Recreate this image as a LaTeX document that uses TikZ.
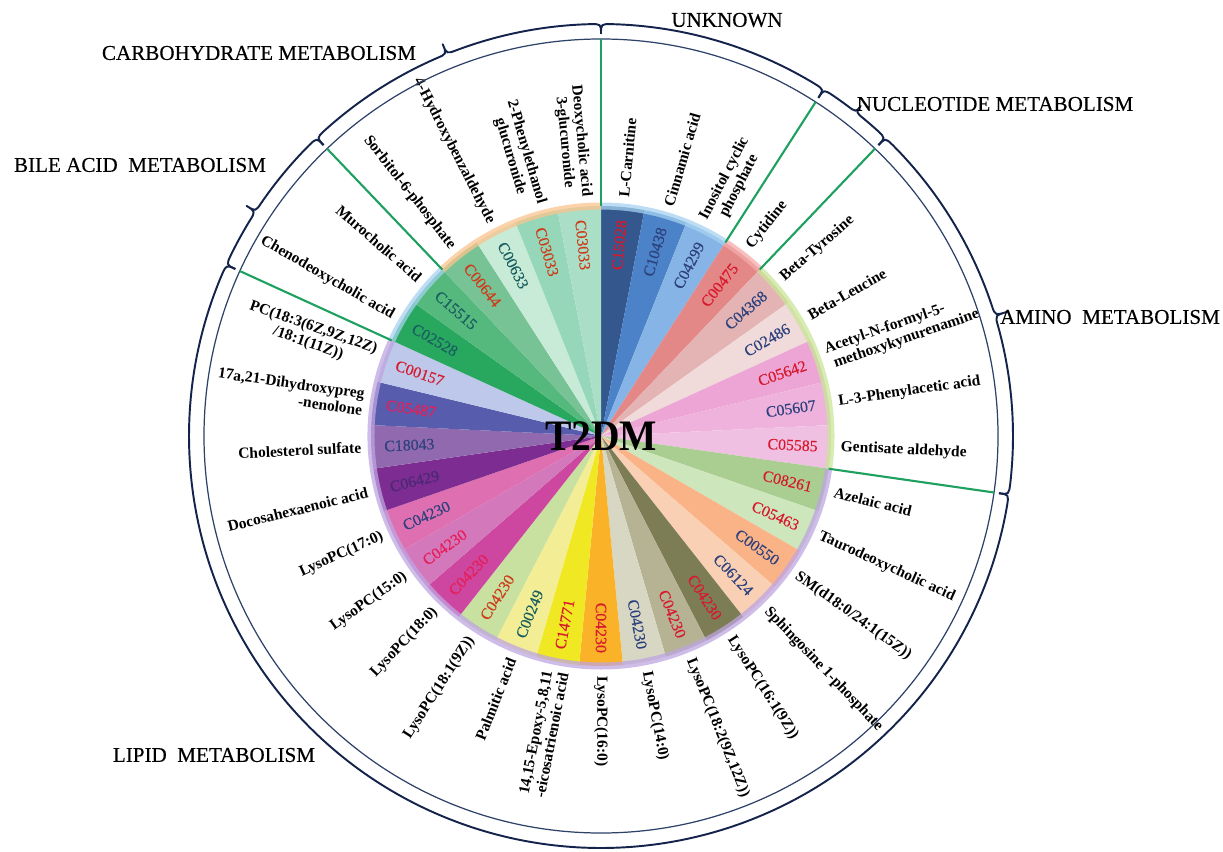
\documentclass[tikz,border=0pt]{standalone}
\usepackage{fontspec}
\setmainfont{Liberation Serif}
\newfontfamily\heavyserif{Liberation Serif}[FakeBold=0.35]
\definecolor{DivGreen}{RGB}{30,160,95}
\definecolor{RingNavy}{RGB}{45,65,105}
\definecolor{BraceNavy}{RGB}{20,35,75}
\definecolor{TxRed}{RGB}{215,25,45}
\definecolor{TxBlue}{RGB}{45,65,125}
\definecolor{TxTeal}{RGB}{25,95,95}
\definecolor{TxOrange}{RGB}{205,60,25}
\definecolor{TxPurple}{RGB}{75,40,115}
\definecolor{TxPink}{RGB}{230,30,90}
\definecolor{RimOrange}{RGB}{250,195,140}
\definecolor{RimBlue}{RGB}{165,210,240}
\definecolor{RimPink}{RGB}{245,170,170}
\definecolor{RimGreen}{RGB}{200,230,150}
\definecolor{RimLilac}{RGB}{190,165,225}
\definecolor{Seg1}{RGB}{52,88,142}
\definecolor{Seg2}{RGB}{75,130,200}
\definecolor{Seg3}{RGB}{135,180,230}
\definecolor{Seg4}{RGB}{228,135,135}
\definecolor{Seg5}{RGB}{228,180,180}
\definecolor{Seg6}{RGB}{240,218,218}
\definecolor{Seg7}{RGB}{236,165,212}
\definecolor{Seg8}{RGB}{238,178,220}
\definecolor{Seg9}{RGB}{240,192,226}
\definecolor{Seg10}{RGB}{170,205,145}
\definecolor{Seg11}{RGB}{205,230,188}
\definecolor{Seg12}{RGB}{250,178,135}
\definecolor{Seg13}{RGB}{250,208,180}
\definecolor{Seg14}{RGB}{125,125,85}
\definecolor{Seg15}{RGB}{182,178,148}
\definecolor{Seg16}{RGB}{215,215,195}
\definecolor{Seg17}{RGB}{250,178,40}
\definecolor{Seg18}{RGB}{240,232,35}
\definecolor{Seg19}{RGB}{243,238,150}
\definecolor{Seg20}{RGB}{200,225,160}
\definecolor{Seg21}{RGB}{205,70,160}
\definecolor{Seg22}{RGB}{212,120,188}
\definecolor{Seg23}{RGB}{222,112,178}
\definecolor{Seg24}{RGB}{125,45,145}
\definecolor{Seg25}{RGB}{145,105,175}
\definecolor{Seg26}{RGB}{88,92,172}
\definecolor{Seg27}{RGB}{190,200,235}
\definecolor{Seg28}{RGB}{40,168,95}
\definecolor{Seg29}{RGB}{85,185,125}
\definecolor{Seg30}{RGB}{120,195,150}
\definecolor{Seg31}{RGB}{200,235,215}
\definecolor{Seg32}{RGB}{150,215,185}
\definecolor{Seg33}{RGB}{170,222,198}
\tikzset{
  code/.style={font=\heavyserif\fontsize{9}{10}\selectfont,inner sep=1pt},
  compound/.style={font=\bfseries\fontsize{8.8}{9.4}\selectfont,inner sep=1pt},
  group/.style={font=\heavyserif\fontsize{12}{14}\selectfont,inner sep=0pt},
  divider/.style={DivGreen,line width=1.2pt},
  ring/.style={RingNavy,line width=0.7pt},
  bracket/.style={BraceNavy,line width=1.1pt,line join=round},
  rim/.style={line width=4pt,opacity=0.75}
}
% lo angle, cusp angle, hi angle, cusp radius
\newcommand{\grpbrace}[4]{%
  \draw[bracket] (#1:8.04) .. controls (#1:8.24) .. ({#1+1.5}:8.24)
    arc[start angle={#1+1.5},end angle={#2-1.5},radius=8.24]
    .. controls (#2:8.24) .. (#2:#4)
    .. controls (#2:8.24) .. ({#2+1.5}:8.24)
    arc[start angle={#2+1.5},end angle={#3-1.5},radius=8.24]
    .. controls (#3:8.24) .. (#3:8.04);}

\begin{document}
\begin{tikzpicture}
\useasboundingbox (0,0) rectangle (24.46,17.02);
\begin{scope}[shift={(12.02,8.30)}]

\foreach \i in {1,...,33}{
  \pgfmathsetmacro{\s}{90-(\i-1)*360/33}
  \pgfmathsetmacro{\e}{90-\i*360/33}
  \fill[Seg\i] (0,0) -- (\s:4.6) arc[start angle=\s,end angle=\e,radius=4.6] -- cycle;
}

\foreach \lo/\hi/\rc in {90/133.64/RimOrange,133.64/155.45/RimBlue,155.45/351.82/RimLilac,
  -8.18/46.36/RimGreen,46.36/57.27/RimPink,57.27/90/RimBlue}
  \draw[rim,\rc] (\lo:4.6) arc[start angle=\lo,end angle=\hi,radius=4.6];

\node[font=\bfseries\fontsize{22.5}{24}\selectfont,inner sep=0pt,yscale=1.1] (t2dm) at (0,0) {T2DM};

\foreach \tc/\code/\al/\cname [count=\i] in {
  TxRed/C15028/center/L-Carnitine,
  TxBlue/C10438/center/Cinnamic acid,
  TxBlue/C04299/center/Inositol cyclic\\phosphate,
  TxRed/C00475/center/Cytidine,
  TxBlue/C04368/center/Beta-Tyrosine,
  TxBlue/C02486/center/Beta-Leucine,
  TxRed/C05642/left/Acetyl-N-formyl-5-\\\ methoxykynurenamine,
  TxBlue/C05607/center/L-3-Phenylacetic acid,
  TxRed/C05585/center/Gentisate aldehyde,
  TxRed/C08261/center/Azelaic acid,
  TxRed/C05463/center/Taurodeoxycholic acid,
  TxBlue/C00550/center/{SM(d18:0/24:1(15Z))},
  TxBlue/C06124/center/Sphingosine 1-phosphate,
  TxRed/C04230/center/LysoPC(16:1(9Z)),
  TxRed/C04230/center/{LysoPC(18:2(9Z,12Z))},
  TxBlue/C04230/center/LysoPC(14:0),
  TxRed/C04230/center/LysoPC(16:0),
  TxRed/C14771/center/{14,15-Epoxy-5,8,11\\-eicosatrienoic acid},
  TxTeal/C00249/center/Palmitic acid,
  TxOrange/C04230/center/LysoPC(18:1(9Z)),
  TxPink/C04230/center/LysoPC(18:0),
  TxPink/C04230/center/LysoPC(15:0),
  TxBlue/C04230/center/LysoPC(17:0),
  TxPurple/C06429/center/Docosahexaenoic acid,
  TxBlue/C18043/center/Cholesterol sulfate,
  TxPink/C05487/right/{17a,21-Dihydroxypreg\\-nenolone},
  TxRed/C00157/center/{PC(18:3(6Z,9Z,12Z)\\/18:1(11Z))},
  TxTeal/C02528/center/Chenodeoxycholic acid,
  TxTeal/C15515/center/Murocholic acid,
  TxOrange/C00644/center/Sorbitol-6-phosphate,
  TxTeal/C00633/center/4-Hydroxybenzaldehyde,
  TxOrange/C03033/center/2-Phenylethanol\\glucuronide,
  TxOrange/C03033/center/Deoxycholic acid\\3-glucuronide}{
  \pgfmathsetmacro{\m}{90-(\i-0.5)*360/33}
  \ifdim\m pt>-90.5pt
    \node[code,text=\tc,rotate=\m,anchor=east] (c\i) at (\m:4.38) {\code};
    \node[compound,align=\al,rotate=\m,anchor=west] (n\i) at (\m:4.76) {\cname};
  \else
    \pgfmathsetmacro{\r}{\m+180}
    \node[code,text=\tc,rotate=\r,anchor=west] (c\i) at (\m:4.38) {\code};
    \node[compound,align=\al,rotate=\r,anchor=east] (n\i) at (\m:4.76) {\cname};
  \fi
}

\draw[ring] (0,0) circle[radius=7.94];

\foreach \b in {0,3,4,9,27,29}{
  \pgfmathsetmacro{\a}{90-\b*360/33}
  \coordinate (in\b) at (\a:4.6);
  \coordinate (out\b) at (\a:7.94);
  \draw[divider] (in\b) -- (out\b);
}

\grpbrace{57.27}{73.6}{90}{8.24}
\grpbrace{46.36}{51.8}{57.27}{8.4}
\grpbrace{-8.18}{17}{46.36}{8.5}
\grpbrace{155.45}{250}{351.82}{8.24}
\grpbrace{133.64}{147}{155.45}{8.45}
\grpbrace{90}{112}{133.64}{8.45}

\node[group] (carb) at (-6.84,7.66) {CARBOHYDRATE METABOLISM};
\node[group] (unknown) at (2.52,8.32) {UNKNOWN};
\node[group] (nucleo) at (7.88,6.64) {NUCLEOTIDE METABOLISM};
\node[group] (bile) at (-9.22,5.42) {BILE ACID\ \ METABOLISM};
\node[group] (amino) at (10.18,2.38) {AMINO\ \ METABOLISM};
\node[group] (lipid) at (-7.74,-6.38) {LIPID\ \ METABOLISM};

\end{scope}
\end{tikzpicture}
\end{document}
